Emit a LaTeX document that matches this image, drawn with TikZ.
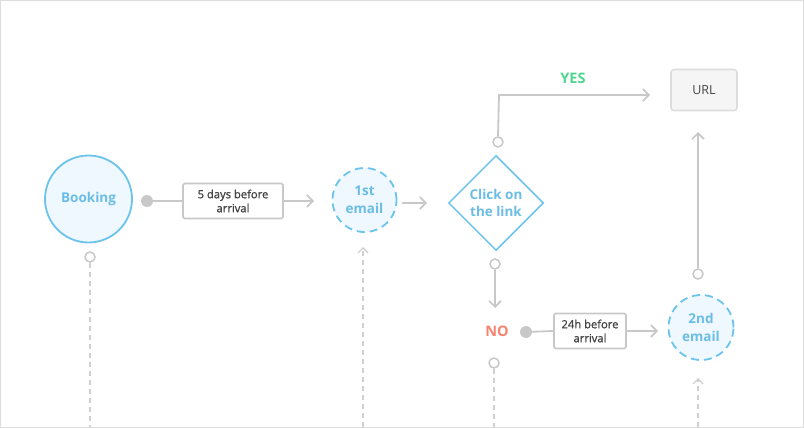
\documentclass[tikz,border=0pt]{standalone}
\usepackage{fontspec}
\setmainfont{Open Sans}
\newfontfamily\semibf[FakeBold=1.2]{Open Sans}
\usetikzlibrary{arrows.meta,shapes.geometric}
\definecolor{cblue}{HTML}{6CC3EC}
\definecolor{cfill}{HTML}{EEF8FE}
\definecolor{ctext}{HTML}{6BBDE6}
\definecolor{cgray}{HTML}{C8C8C8}
\definecolor{cdash}{HTML}{D0D0D0}
\definecolor{cframe}{HTML}{DDDDDD}
\definecolor{cgreen}{HTML}{4DD68E}
\definecolor{cred}{HTML}{F7826F}
\definecolor{cboxtext}{HTML}{444444}
\definecolor{curl}{HTML}{F5F5F5}
\begin{document}
\begin{tikzpicture}[x=1pt,y=-1pt,
  state/.style={circle,draw=cblue,fill=cfill,line width=1.8pt,text=ctext,
    font=\bfseries\fontsize{13.5}{18}\selectfont,align=center,inner sep=0pt},
  dstate/.style={state,dash pattern=on 8pt off 5pt},
  decision/.style={diamond,draw=cblue,fill=white,line width=1.5pt,text=ctext,
    font=\bfseries\fontsize{13.5}{17}\selectfont,align=center,inner sep=0pt,
    minimum width=95pt,minimum height=95pt},
  labelbox/.style={rectangle,draw=cgray,fill=white,line width=1.6pt,text=cboxtext,
    font=\semibf\fontsize{11.2}{14}\selectfont,align=center,inner sep=0pt,rounded corners=1.5pt},
  urlbox/.style={rectangle,draw=cframe,fill=curl,line width=1.6pt,text=cboxtext,
    font=\fontsize{12.5}{14}\selectfont,rounded corners=3pt,inner sep=0pt,
    minimum width=66pt,minimum height=41pt},
  filldot/.style={circle,fill=cgray,draw=none,minimum size=12pt,inner sep=0pt},
  opendot/.style={circle,fill=white,draw=cgray,line width=1.5pt,minimum size=10pt,inner sep=0pt},
  gline/.style={draw=cgray,line width=1.8pt},
  garrow/.style={gline,-{Straight Barb[length=6pt,width=12pt,line width=1.6pt]}},
  dline/.style={draw=cdash,line width=1.5pt,dash pattern=on 5pt off 4pt},
  darrow/.style={dline,-{Straight Barb[length=5pt,width=10pt,line width=1.4pt]}},
  word/.style={font=\bfseries\fontsize{14.5}{16}\selectfont,inner sep=0pt}
]
\useasboundingbox (0,0) rectangle (804,428);
\draw[cframe,line width=1pt] (0.5,0.5) rectangle (803.5,427.5);

% nodes
\node[state,minimum size=87pt] (book) at (88.5,199) {Booking};
\node[filldot] (d1) at (147,201) {};
\node[labelbox,minimum width=100pt,minimum height=35pt] (b1) at (233,201) {5 days before\\arrival};
\node[dstate,minimum size=64pt] (e1) at (364.5,200) {1st\\email};
\node[decision] (click) at (496,203) {Click on\\the link};
\node[opendot] (ytop) at (498,142) {};
\node[word,text=cgreen] (yes) at (573,78) {YES};
\node[urlbox] (url) at (704,90) {URL};
\node[opendot] (nbot) at (495,264) {};
\node[word,text=cred] (no) at (497,331) {NO};
\node[filldot] (d2) at (526,332) {};
\node[labelbox,minimum width=72pt,minimum height=35pt] (b2) at (590,331) {24h before\\arrival};
\node[dstate,minimum size=65pt] (e2) at (701,327.5) {2nd\\email};
\node[opendot] (etop) at (698,274) {};
\node[opendot] (bbot) at (90,257) {};
\node[opendot] (nlow) at (494,363) {};

% free ends
\coordinate (t1) at (314,201);
\coordinate (s2) at (402,203);
\coordinate (t2) at (427,203);
\coordinate (c1) at (499,95);
\coordinate (t3) at (650,95);
\coordinate (t4) at (495,308);
\coordinate (t5) at (658,331);
\coordinate (t6) at (698,132);
\coordinate (f1) at (90,427);
\coordinate (f2) at (363,427);
\coordinate (t7) at (363,247);
\coordinate (f3) at (494,427);
\coordinate (f4) at (698,427);
\coordinate (t8) at (698,378);

% connectors
\draw[gline] (d1) -- (b1.west);
\draw[garrow] (b1.east) -- (t1);
\draw[garrow] (s2) -- (t2);
\draw[garrow] (ytop.north) -- (c1) -- (t3);
\draw[garrow] (nbot.south) -- (t4);
\draw[gline] (d2) -- (b2.west);
\draw[garrow] (b2.east) -- (t5);
\draw[garrow] (etop.north) -- (t6);
\draw[dline] (bbot.south) -- (f1);
\draw[darrow] (f2) -- (t7);
\draw[dline] (nlow.south) -- (f3);
\draw[darrow] (f4) -- (t8);
\end{tikzpicture}
\end{document}
